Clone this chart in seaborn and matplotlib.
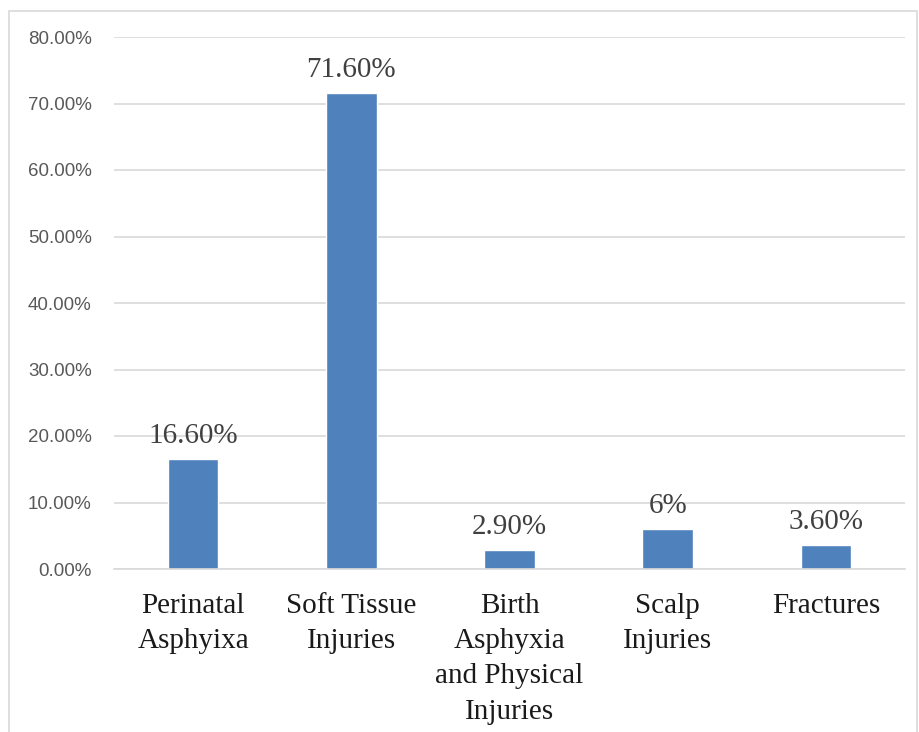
import matplotlib
matplotlib.use("Agg")
import matplotlib.pyplot as plt
import seaborn as sns
import pandas as pd
from matplotlib.patches import Rectangle

categories = ["Perinatal\nAsphyixa", "Soft Tissue\nInjuries", "Birth\nAsphyxia\nand Physical\nInjuries", "Scalp\nInjuries", "Fractures"]
values = [16.6, 71.6, 2.9, 6.0, 3.6]
value_labels = ["16.60%", "71.60%", "2.90%", "6%", "3.60%"]
yticks = [0, 10, 20, 30, 40, 50, 60, 70, 80]
ytick_labels = ["0.00%", "10.00%", "20.00%", "30.00%", "40.00%", "50.00%", "60.00%", "70.00%", "80.00%"]

sns.set_theme(style="white")
df = pd.DataFrame({"cat": categories, "val": values})

fig = plt.figure(figsize=(9.19, 7.32), dpi=100)
ax = fig.add_axes([114/919, 1 - 569/732, (905-114)/919, (569-37)/732])

sns.barplot(data=df, x="cat", y="val", color="#4F81BD", width=0.32, ax=ax, saturation=1)

ax.set_ylim(0, 80)
ax.set_yticks(yticks)
ax.set_yticklabels(ytick_labels, fontsize=13.5, color="#595959", family="Liberation Sans")
ax.yaxis.grid(True, color="#D9D9D9", linewidth=1.2)
ax.set_axisbelow(True)
for s in ["top", "right", "left"]:
    ax.spines[s].set_visible(False)
ax.spines["bottom"].set_color("#D9D9D9")
ax.spines["bottom"].set_linewidth(1.2)
ax.tick_params(axis="y", length=0, pad=16)
ax.tick_params(axis="x", length=0, pad=17)
ax.set_xlabel("")
ax.set_ylabel("")
ax.set_xticks(range(len(categories)))
ax.set_xticklabels(categories, fontsize=21, family="Liberation Serif", color="#1a1a1a", linespacing=1.47, va="top")

for i, (v, lab) in enumerate(zip(values, value_labels)):
    ax.annotate(lab, (i, v), xytext=(0, 10), textcoords="offset pixels", ha="center", va="bottom",
                fontsize=21, family="Liberation Serif", color="#404040")

fig.patches.append(Rectangle((9/919, -0.01), (917-9)/919, 1 - 11/732 + 0.01, transform=fig.transFigure,
                             fill=False, edgecolor="#D9D9D9", linewidth=1.2))

fig.savefig("out.png", dpi=100, facecolor="white")
